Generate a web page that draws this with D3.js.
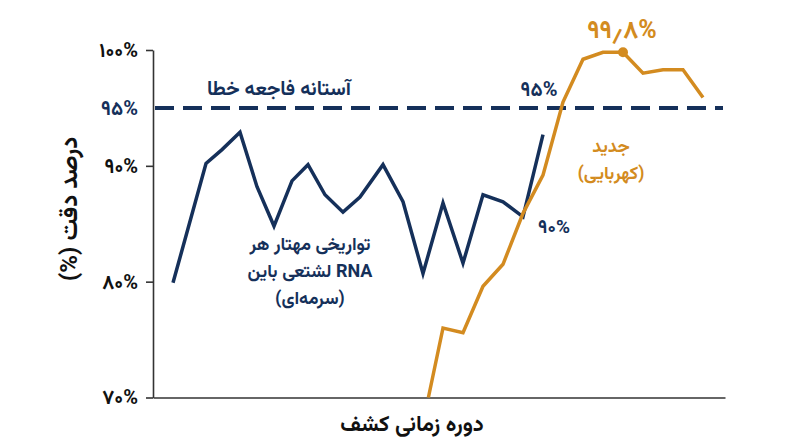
<!DOCTYPE html>
<html>
    <head>
        <meta charset="utf-8">
        <title>Accuracy chart</title>
        <script src="https://d3js.org/d3.v7.min.js"></script>
        <style>
            body { margin: 0; background: #fff; }
            svg text { font-family: Vazirmatn, "DejaVu Sans", sans-serif; font-weight: bold; }
            .axis path { stroke: #333; stroke-width: 1.6; }
            .axis line { stroke: #333; stroke-width: 1.6; }
            .axis text { font-size: 20px; fill: #111; }
        </style>
    </head>
    <body>
        <svg width="800" height="447"></svg>
        <script>
            // data (x = detection period index, y = accuracy %)
            var navyX = [0.5, 2.15, 2.95, 3.85, 4.7, 5.55, 6.45, 7.25, 8.1, 9, 9.85, 11, 12, 13, 14, 15, 16, 17, 18, 19];
            var navyY = [79.9, 90.2, 91.4, 92.9, 88.2, 84.8, 88.7, 90.1, 87.5, 86.0, 87.3, 90.1, 86.9, 80.7, 86.8, 81.6, 87.5, 86.9, 85.6, 92.7];
            var goldX = [13.27, 14, 15, 16, 17, 18, 19, 20, 21, 22, 23, 24, 25, 26, 27];
            var goldY = [70, 76.0, 75.6, 79.6, 81.5, 85.9, 89.2, 95.5, 99.2, 99.8, 99.8, 98.0, 98.3, 98.3, 95.9];
            var yTicks = [70, 80, 90, 95, 100];
            var yTickLabels = ["۷۰%", "۸۰%", "۹۰%", "۹۵%", "۱۰۰%"];
            var threshold = 95;
            var peakIndex = 10;

            var navy = "#15305a", gold = "#d38b20";
            var margin = {top: 50, right: 75, bottom: 49.5, left: 153};
            var width = 800 - margin.left - margin.right;
            var height = 447 - margin.top - margin.bottom;

            var svg = d3.select("svg")
              .append("g")
                .attr("transform", "translate(" + margin.left + "," + margin.top + ")");

            var xScale = d3.scaleLinear().domain([-0.5, 28.1]).range([0, width]);
            var yScale = d3.scaleLinear().domain([70, 100]).range([height, 0]);

            // axes
            var yAxis = svg.append("g")
                .attr("class", "axis")
                .call(d3.axisLeft(yScale)
                    .tickValues(yTicks)
                    .tickSize(7)
                    .tickSizeOuter(0)
                    .tickPadding(8)
                    .tickFormat((d, i) => yTickLabels[i]));
            yAxis.selectAll(".tick")
                .filter(d => d === threshold)
                .call(t => t.select("line").remove())
                .select("text").style("fill", navy);

            svg.append("g")
                .attr("class", "axis")
                .attr("transform", "translate(0," + height + ")")
                .call(d3.axisBottom(xScale).tickValues([]).tickSizeOuter(0));

            // threshold dashed line
            svg.append("line")
                .attr("x1", 2).attr("x2", width - 2)
                .attr("y1", yScale(threshold)).attr("y2", yScale(threshold))
                .attr("stroke", navy)
                .attr("stroke-width", 4)
                .attr("stroke-dasharray", "19,9");

            var line = d3.line().x(d => xScale(d[0])).y(d => yScale(d[1]));

            svg.append("path")
                .datum(navyX.map((x, i) => [x, navyY[i]]))
                .attr("d", line)
                .attr("fill", "none")
                .attr("stroke", navy)
                .attr("stroke-width", 3.5);

            svg.append("path")
                .datum(goldX.map((x, i) => [x, goldY[i]]))
                .attr("d", line)
                .attr("fill", "none")
                .attr("stroke", gold)
                .attr("stroke-width", 3.5);

            svg.append("circle")
                .attr("cx", xScale(goldX[peakIndex]))
                .attr("cy", yScale(goldY[peakIndex]))
                .attr("r", 5)
                .attr("fill", gold);

            // labels
            function label(x, y, txt, color, size, dir) {
                return svg.append("text")
                    .attr("x", x - margin.left).attr("y", y - margin.top)
                    .attr("text-anchor", "middle")
                    .attr("direction", dir || "rtl")
                    .style("font-size", size + "px")
                    .style("fill", color)
                    .text(txt);
            }
            label(279, 95, "آستانه فاجعه خطا", navy, 20);
            label(539, 96, "۹۵%", navy, 20, "ltr");
            label(622, 38, "۹۹٫۸%", gold, 25, "ltr");
            label(611, 152, "جدید", gold, 18);
            label(611, 179, "(کهربایی)", gold, 18);
            label(554, 233, "۹۰%", navy, 19, "ltr");
            label(310, 250, "تواریخی مهتار هر", navy, 18);
            label(310, 277, "RNA لشتعی باین", navy, 18);
            label(310, 304, "(سرمه‌ای)", navy, 18);

            // axis titles
            label(412, 431, "دوره زمانی کشف", "#111", 22);
            svg.append("text")
                .attr("transform", "translate(" + (77 - margin.left) + "," + (209 - margin.top) + ") rotate(-90)")
                .attr("text-anchor", "middle")
                .attr("direction", "rtl")
                .style("font-size", "24px")
                .style("fill", "#111")
                .text("درصد دقت (%)");
        </script>
    </body>
</html>
